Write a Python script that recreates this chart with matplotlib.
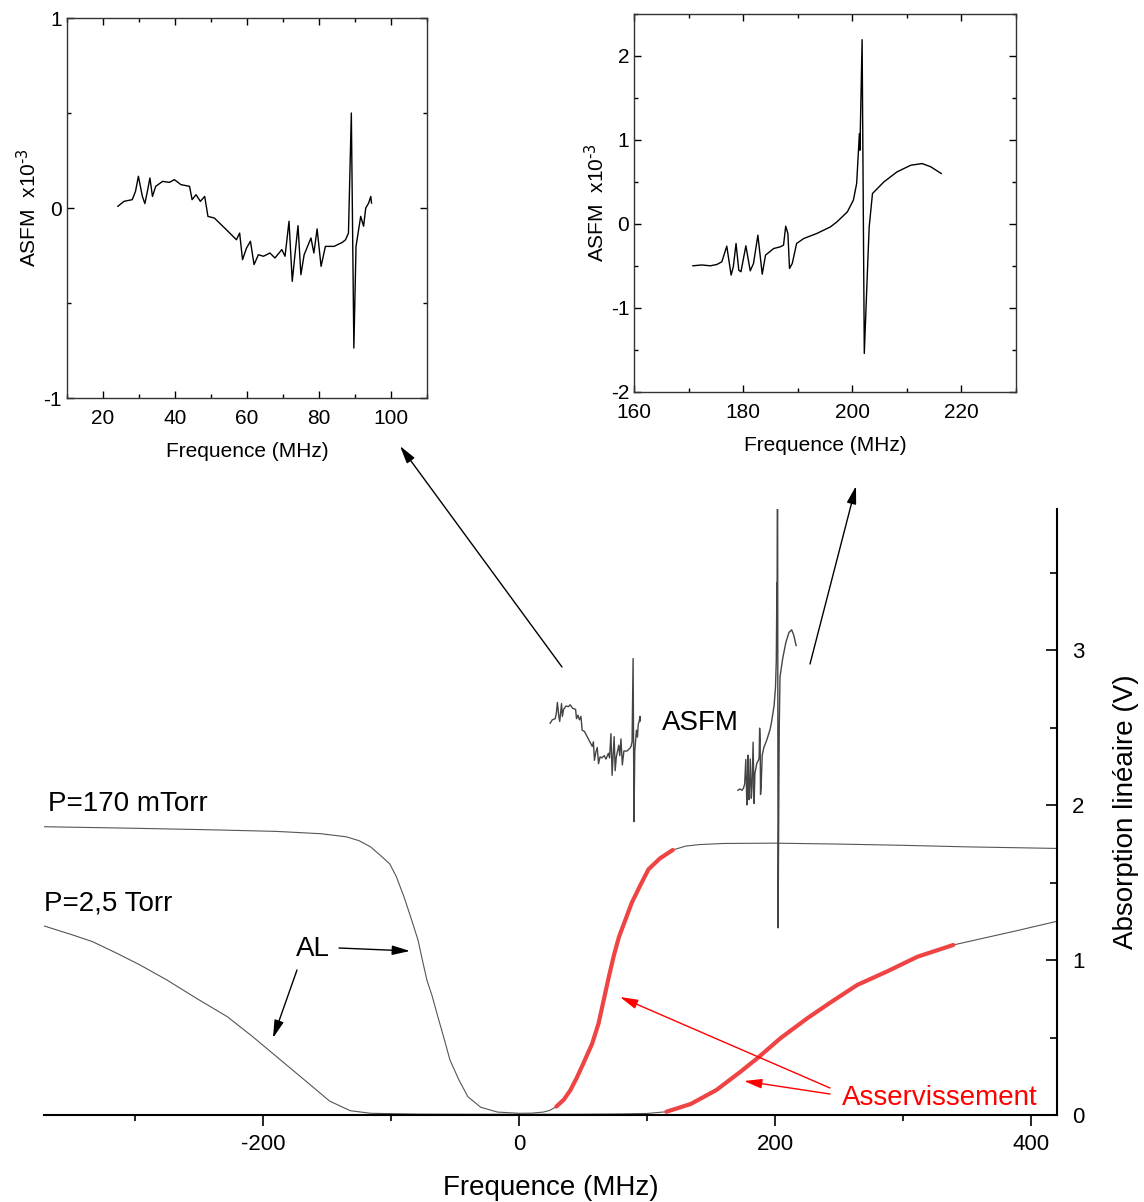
import numpy as np
import matplotlib
matplotlib.use("Agg")
import matplotlib.pyplot as plt
from matplotlib.ticker import MultipleLocator

plt.rcParams["font.family"] = ["Liberation Sans", "DejaVu Sans"]
plt.rcParams["mathtext.default"] = "regular"
plt.rcParams["axes.unicode_minus"] = False

#### data
# linear absorption, P = 170 mTorr (V)
f170 = [-371, -300, -240, -190, -155, -135, -125, -116, -109, -101, -96, -90, -84, -79,
        -75, -72, -68, -64, -59, -54, -47, -40, -30, -17, 0, 10, 19, 24, 29, 35, 40, 45,
        50, 57, 62, 66, 70, 74, 78, 83, 88, 94.5, 101, 110, 120, 130, 141, 160, 200, 250,
        300, 350, 420]
a170 = [1.86, 1.85, 1.84, 1.83, 1.815, 1.795, 1.77, 1.73, 1.68, 1.62, 1.54, 1.41, 1.26, 1.13,
        0.98, 0.87, 0.77, 0.65, 0.505, 0.355, 0.226, 0.118, 0.05, 0.019, 0.011, 0.012, 0.019,
        0.03, 0.054, 0.10, 0.16, 0.24, 0.33, 0.46, 0.59, 0.74, 0.89, 1.03, 1.15, 1.26, 1.37,
        1.48, 1.585, 1.656, 1.71, 1.735, 1.745, 1.752, 1.754, 1.748, 1.74, 1.73, 1.72]
lock170 = [29, 120]

# linear absorption, P = 2,5 Torr (V)
f25 = [-371, -348, -333, -314, -296, -275, -252, -228, -208, -187, -166, -148, -132, -116,
       -80, -40, 0, 40, 80, 100, 115, 134, 154, 173, 186, 204, 225, 244, 264, 287, 311, 339,
       389, 420]
a25 = [1.22, 1.16, 1.118, 1.043, 0.968, 0.871, 0.753, 0.635, 0.505, 0.36, 0.215, 0.09, 0.028,
       0.011, 0.006, 0.005, 0.005, 0.005, 0.007, 0.010, 0.021, 0.071, 0.161, 0.28, 0.366, 0.495,
       0.624, 0.731, 0.839, 0.925, 1.021, 1.097, 1.19, 1.25]
lock25 = [115, 339]

# ASFM signal around 20-95 MHz (x1e-3)
fs1 = [24.2, 25.9, 28.2, 29.1, 29.9, 31.0, 31.7, 32.4, 33.1, 33.8, 34.7, 36.6, 38.5, 39.9, 41.7,
       44.1, 44.8, 45.9, 47.1, 48.3, 49.2, 51.0, 54.3, 57.1, 58.0, 58.8, 59.9, 61.0, 62.0, 63.2,
       64.6, 66.4, 67.8, 69.7, 70.6, 71.7, 72.6, 73.4, 74.2, 75.0, 75.9, 77.8, 78.6, 79.5, 80.6,
       81.8, 84.2, 86.5, 87.4, 88.2, 89.0, 89.7, 90.3, 91.6, 92.4, 93.0, 93.8, 94.4, 94.6]
s1 = [0.009, 0.035, 0.044, 0.088, 0.167, 0.061, 0.023, 0.088, 0.158, 0.061, 0.114, 0.14, 0.135,
      0.149, 0.123, 0.114, 0.044, 0.07, 0.035, 0.061, -0.044, -0.053, -0.114, -0.167, -0.132,
      -0.272, -0.211, -0.175, -0.298, -0.246, -0.254, -0.237, -0.263, -0.219, -0.254, -0.07,
      -0.386, -0.237, -0.093, -0.351, -0.246, -0.158, -0.237, -0.11, -0.307, -0.202, -0.202,
      -0.181, -0.167, -0.132, 0.5, -0.737, -0.202, -0.044, -0.096, 0.0, 0.026, 0.061, 0.026]

# ASFM signal around 170-216 MHz (x1e-3)
fs2 = [170.8, 172.4, 174.0, 175.2, 176.1, 177.0, 177.8, 178.2, 178.7, 179.2, 179.6, 180.5, 181.3,
       181.9, 182.7, 183.5, 184.1, 185.6, 186.8, 187.4, 187.8, 188.2, 188.5, 189.0, 189.8, 191.1,
       193.5, 196.0, 197.2, 199.1, 200.2, 200.8, 201.3, 201.4, 201.8, 202.2, 202.9, 203.1, 203.7,
       205.8, 208.2, 210.7, 212.8, 214.4, 216.3]
s2 = [-0.5, -0.49, -0.5, -0.484, -0.452, -0.266, -0.611, -0.512, -0.234, -0.552, -0.571, -0.262,
      -0.56, -0.472, -0.135, -0.6, -0.373, -0.294, -0.274, -0.254, -0.028, -0.115, -0.532, -0.472,
      -0.234, -0.175, -0.115, -0.036, 0.024, 0.143, 0.282, 0.48, 1.075, 0.877, 2.194, -1.544,
      -0.353, -0.036, 0.361, 0.5, 0.619, 0.698, 0.718, 0.679, 0.599]

# how the ASFM traces are drawn inside the main plot (V)
asfm_offset = 2.52
asfm_scale = 0.85

W, H = 1144, 1202


def fpos(x, y):
    # pixel position -> figure fraction
    return (x / W, 1 - y / H)


fig = plt.figure(figsize=[11.44, 12.02], dpi=100)

#### main plot
ax = fig.add_axes([44 / W, 1 - 1115 / H, 1013 / W, 606 / H])
gray = "#555555"
red = "#ee4444"
f170 = np.array(f170)
a170 = np.array(a170)
f25 = np.array(f25)
a25 = np.array(a25)
ax.plot(f170, a170, color=gray, lw=0.8)
ax.plot(f25, a25, color=gray, lw=0.8)
m = (f170 >= lock170[0]) & (f170 <= lock170[1])
ax.plot(f170[m], a170[m], color=red, lw=3, solid_capstyle="round", solid_joinstyle="round")
m = (f25 >= lock25[0]) & (f25 <= lock25[1])
ax.plot(f25[m], a25[m], color=red, lw=3, solid_capstyle="round", solid_joinstyle="round")
ax.plot(fs1, asfm_offset + asfm_scale * np.array(s1), color="#444444", lw=1)
ax.plot(fs2, asfm_offset + asfm_scale * np.array(s2), color="#444444", lw=1)

ax.set_xlim([-371, 420])
ax.set_ylim([0, 3.91])
ax.spines["left"].set_visible(False)
ax.spines["top"].set_visible(False)
ax.spines["bottom"].set_linewidth(1.5)
ax.spines["right"].set_linewidth(1.5)
ax.yaxis.tick_right()
ax.yaxis.set_label_position("right")
ax.set_xticks([-200, 0, 200, 400])
ax.xaxis.set_minor_locator(MultipleLocator(100))
ax.set_yticks([0, 1, 2, 3])
ax.yaxis.set_minor_locator(MultipleLocator(0.5))
ax.tick_params(axis="x", which="major", direction="out", length=8, width=1.2, labelsize=16, pad=6)
ax.tick_params(axis="x", which="minor", direction="out", length=4, width=1.2)
ax.tick_params(axis="y", which="major", direction="in", length=8, width=1.2, labelsize=16, pad=11)
ax.tick_params(axis="y", which="minor", direction="in", length=5, width=1.2)
ax.set_xlabel("Frequence (MHz)", fontsize=20, labelpad=14)
ax.set_ylabel("Absorption linéaire (V)", fontsize=20, labelpad=20)

fig.text(*fpos(48, 811), "P=170 mTorr", fontsize=20, ha="left", va="baseline")
fig.text(*fpos(44, 910), "P=2,5 Torr", fontsize=20, ha="left", va="baseline")
fig.text(*fpos(313, 949), "AL", fontsize=20, ha="center", va="center")
fig.text(*fpos(662, 730), "ASFM", fontsize=20, ha="left", va="baseline")
fig.text(*fpos(842, 1105), "Asservissement", fontsize=20, ha="left", va="baseline", color="red")


def arrow(tail, head, color="k"):
    ax.annotate("", xy=fpos(*head), xytext=fpos(*tail),
                xycoords="figure fraction", textcoords="figure fraction",
                arrowprops=dict(arrowstyle="-|>,head_length=0.6,head_width=0.16",
                                mutation_scale=18, color=color, lw=1,
                                shrinkA=0, shrinkB=0))


arrow((562, 667), (400, 446))
arrow((810, 664), (856, 486))
arrow((339, 948), (410, 951))
arrow((297, 970), (273, 1038))
arrow((830, 1088), (620, 997), color="red")
arrow((830, 1094), (744, 1081), color="red")

#### insets
def inset(rect, f, s, xlim, ylim, xmaj, ymaj):
    a = fig.add_axes(rect)
    a.plot(f, s, color="k", lw=1)
    a.set_xlim(xlim)
    a.set_ylim(ylim)
    a.xaxis.set_major_locator(MultipleLocator(xmaj))
    a.xaxis.set_minor_locator(MultipleLocator(xmaj / 2))
    a.yaxis.set_major_locator(MultipleLocator(ymaj))
    a.yaxis.set_minor_locator(MultipleLocator(ymaj / 2))
    a.tick_params(which="both", direction="in", top=True, right=True, labelsize=15, width=1)
    a.tick_params(which="major", length=5)
    a.tick_params(which="minor", length=3)
    a.tick_params(axis="x", pad=8)
    for sp in a.spines.values():
        sp.set_linewidth(1)
        sp.set_color("#333333")
    a.set_xlabel("Frequence (MHz)", fontsize=15, labelpad=10)
    a.set_ylabel(r"ASFM  x10$^{\text{-3}}$", fontsize=15, labelpad=2)
    return a


a1 = inset([66.7 / W, 1 - 398 / H, 360.3 / W, 380 / H], fs1, s1, [10, 110], [-1, 1], 20, 1)
a1.set_yticks([-1, 0, 1])
a1.yaxis.set_minor_locator(MultipleLocator(0.5))
a2 = inset([634 / W, 1 - 391.7 / H, 382 / W, 377.7 / H], fs2, s2, [160, 230], [-2, 2.5], 20, 1)

plt.savefig("out.png", dpi=100)
plt.close()
